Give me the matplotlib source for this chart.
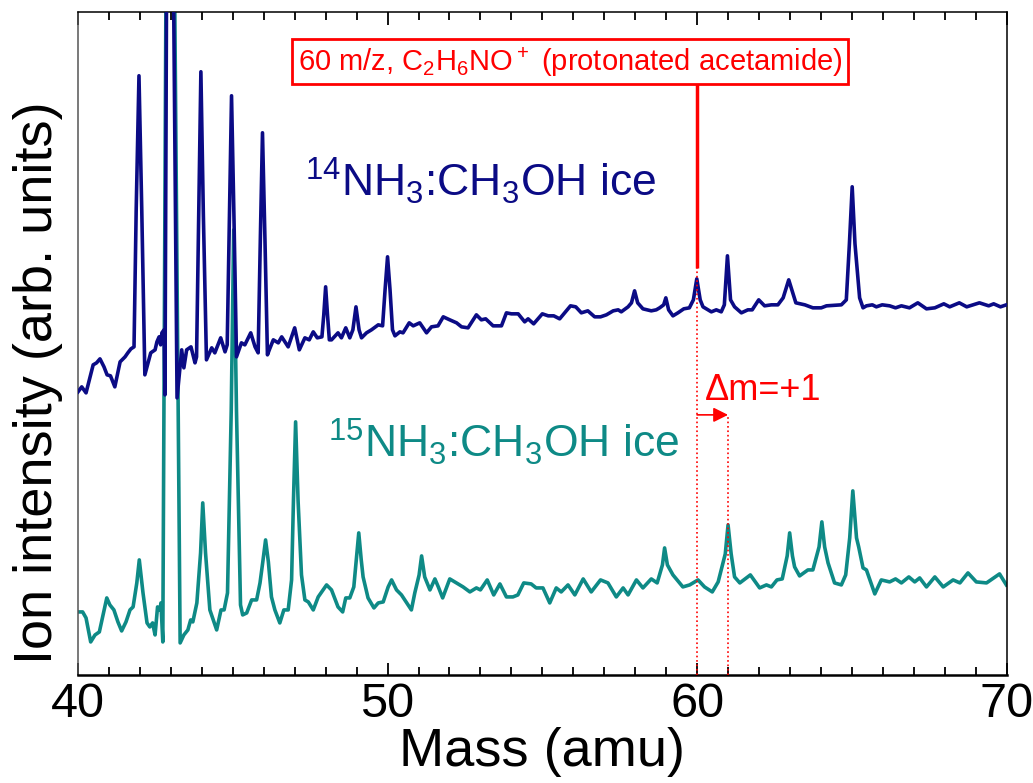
# mass spectra of 14NH3:CH3OH and 15NH3:CH3OH ices, 40-70 amu
import matplotlib
matplotlib.use('Agg')
from matplotlib import pyplot as plt
from matplotlib.ticker import MultipleLocator

# =========================================================
## --- data (arb. units) --- ##
mass14 = [40.00, 40.12, 40.26, 40.49, 40.60, 40.71, 40.84, 40.94, 41.05, 41.19,
          41.36, 41.52, 41.61, 41.71, 41.81, 41.88, 41.97, 42.06, 42.16, 42.23,
          42.35, 42.49, 42.55, 42.62, 42.67, 42.71, 42.78, 42.81, 42.90, 43.00,
          43.20, 43.35, 43.42, 43.51, 43.65, 43.78, 43.83, 43.90, 43.97, 44.05,
          44.15, 44.32, 44.42, 44.61, 44.75, 44.82, 44.89, 44.96, 45.04, 45.12,
          45.28, 45.39, 45.58, 45.72, 45.82, 45.89, 45.96, 46.04, 46.12, 46.18,
          46.31, 46.47, 46.58, 46.79, 47.00, 47.15, 47.33, 47.47, 47.60, 47.73,
          47.88, 47.94, 48.00, 48.06, 48.12, 48.19, 48.40, 48.51, 48.65, 48.78,
          48.88, 48.98, 49.08, 49.16, 49.32, 49.48, 49.70, 49.84, 49.92, 50.00,
          50.08, 50.16, 50.24, 50.40, 50.50, 50.70, 50.83, 51.04, 51.26, 51.42,
          51.63, 51.80, 52.01, 52.23, 52.39, 52.60, 52.87, 53.03, 53.17, 53.41,
          53.68, 53.84, 54.00, 54.22, 54.43, 54.54, 54.72, 55.00, 55.19, 55.37,
          55.56, 55.91, 56.08, 56.26, 56.47, 56.69, 56.88, 57.07, 57.29, 57.45,
          57.55, 57.77, 57.88, 57.98, 58.08, 58.25, 58.52, 58.68, 58.79, 58.92,
          58.99, 59.08, 59.22, 59.38, 59.57, 59.75, 59.88, 59.99, 60.10, 60.19,
          60.46, 60.62, 60.78, 60.88, 60.98, 61.08, 61.21, 61.43, 61.64, 61.78,
          61.99, 62.18, 62.40, 62.61, 62.78, 62.96, 63.19, 63.48, 63.74, 64.01,
          64.18, 64.66, 64.82, 64.92, 65.01, 65.10, 65.25, 65.36, 65.47, 65.66,
          65.79, 65.98, 66.22, 66.41, 66.60, 66.86, 67.13, 67.41, 67.68, 67.97,
          68.16, 68.47, 68.71, 69.12, 69.42, 69.58, 69.80, 69.99]
ints14 = [283, 288, 282, 310, 312, 316, 308, 300, 299, 288,
          313, 318, 322, 326, 328, 465, 599, 465, 300, 308,
          322, 325, 333, 338, 330, 342, 345, 280, 1000, 1000,
          277, 325, 307, 325, 328, 312, 318, 460, 603, 460,
          315, 327, 322, 337, 323, 330, 455, 579, 455, 318,
          332, 330, 342, 328, 322, 435, 542, 435, 320, 325,
          335, 332, 338, 328, 347, 325, 337, 335, 343, 337,
          338, 360, 388, 360, 335, 335, 342, 337, 347, 337,
          345, 368, 345, 337, 342, 345, 350, 349, 385, 418,
          385, 345, 339, 343, 342, 352, 349, 352, 342, 348,
          349, 358, 355, 352, 348, 347, 360, 355, 356, 349,
          349, 362, 361, 361, 353, 356, 351, 361, 359, 359,
          356, 369, 368, 362, 364, 358, 358, 360, 364, 365,
          363, 368, 372, 384, 372, 366, 364, 365, 367, 370,
          377, 365, 359, 362, 366, 367, 375, 396, 375, 368,
          363, 365, 363, 370, 419, 375, 368, 362, 365, 365,
          375, 369, 370, 370, 377, 395, 372, 370, 367, 367,
          369, 370, 375, 431, 488, 431, 377, 367, 369, 370,
          368, 370, 369, 367, 369, 367, 372, 366, 367, 371,
          368, 372, 368, 372, 369, 371, 368, 370]

mass15 = [40.00, 40.15, 40.26, 40.41, 40.55, 40.69, 40.81, 40.93, 41.03, 41.16,
          41.29, 41.41, 41.55, 41.68, 41.78, 41.90, 41.98, 42.10, 42.23, 42.32,
          42.41, 42.49, 42.57, 42.65, 42.68, 42.74, 42.90, 43.02, 43.30, 43.42,
          43.55, 43.64, 43.71, 43.84, 43.96, 44.03, 44.12, 44.26, 44.48, 44.62,
          44.72, 44.83, 44.95, 45.03, 45.12, 45.25, 45.32, 45.45, 45.61, 45.77,
          45.88, 45.97, 46.06, 46.15, 46.25, 46.36, 46.52, 46.65, 46.79, 46.90,
          46.96, 47.03, 47.11, 47.22, 47.33, 47.44, 47.60, 47.76, 48.03, 48.19,
          48.40, 48.55, 48.65, 48.78, 48.91, 48.99, 49.07, 49.15, 49.21, 49.37,
          49.56, 49.70, 49.86, 50.02, 50.13, 50.29, 50.45, 50.77, 50.88, 51.02,
          51.10, 51.20, 51.37, 51.53, 51.64, 51.78, 52.01, 52.17, 52.44, 52.66,
          52.87, 53.00, 53.22, 53.43, 53.63, 53.84, 54.05, 54.21, 54.40, 54.64,
          54.80, 55.02, 55.24, 55.45, 55.61, 55.83, 56.05, 56.32, 56.58, 56.88,
          57.12, 57.39, 57.61, 57.77, 58.04, 58.25, 58.52, 58.71, 58.88, 58.95,
          59.04, 59.22, 59.54, 59.76, 60.03, 60.24, 60.49, 60.68, 60.91, 61.00,
          61.10, 61.21, 61.38, 61.72, 62.02, 62.24, 62.40, 62.58, 62.75, 62.91,
          62.99, 63.08, 63.15, 63.31, 63.58, 63.74, 63.94, 64.03, 64.12, 64.23,
          64.44, 64.66, 64.80, 64.93, 65.03, 65.15, 65.22, 65.36, 65.47, 65.74,
          65.95, 66.22, 66.41, 66.60, 66.84, 67.03, 67.19, 67.41, 67.68, 67.95,
          68.27, 68.49, 68.75, 69.02, 69.35, 69.77, 69.99]
ints15 = [63, 63, 57, 33, 40, 43, 60, 77, 70, 65,
          53, 44, 53, 65, 68, 92, 115, 82, 52, 48,
          52, 40, 68, 65, 72, 33, 1060, 1060, 32, 40,
          45, 55, 53, 72, 122, 172, 122, 65, 45, 65,
          65, 82, 264, 445, 264, 70, 60, 62, 75, 75,
          92, 113, 135, 113, 78, 65, 52, 65, 65, 95,
          174, 253, 174, 100, 75, 73, 65, 78, 90, 85,
          68, 63, 77, 77, 88, 115, 142, 115, 98, 77,
          67, 72, 73, 88, 95, 85, 80, 65, 82, 100,
          119, 98, 85, 96, 88, 77, 96, 93, 88, 83,
          87, 85, 95, 80, 91, 78, 78, 80, 92, 91,
          87, 87, 72, 87, 83, 90, 80, 96, 83, 95,
          92, 78, 87, 80, 95, 87, 96, 92, 110, 127,
          110, 100, 88, 90, 95, 88, 83, 93, 121, 150,
          121, 98, 92, 100, 87, 90, 88, 95, 96, 119,
          142, 119, 108, 99, 105, 105, 128, 153, 128, 112,
          92, 90, 100, 137, 184, 137, 128, 107, 105, 81,
          95, 93, 96, 92, 98, 93, 97, 88, 98, 88,
          95, 92, 102, 93, 92, 101, 90]

col14, col15, colr = '#0b0b85', '#0e8a86', '#ff0000'

# =========================================================
## --- drawing graph --- ##
plt.rcParams['font.family'] = ['Liberation Sans', 'DejaVu Sans']
plt.rcParams['mathtext.default'] = 'regular'

fig = plt.figure(figsize=(10.33, 7.83), dpi=100)
ax = fig.add_axes([0.0755, 0.138, 0.899, 0.847])

ax.plot(mass15, ints15, color=col15, lw=2.6, zorder=2, solid_joinstyle='round')
ax.plot(mass14, ints14, color=col14, lw=2.6, zorder=3, solid_joinstyle='round')

ax.set_xlim(40, 70)
ax.set_ylim(0, 663)
ax.xaxis.set_major_locator(MultipleLocator(10))
ax.xaxis.set_minor_locator(MultipleLocator(1))
ax.set_yticks([])
ax.tick_params(axis='x', which='both', direction='in', top=True, bottom=True,
               width=1.3, labelsize=35, pad=5)
ax.tick_params(axis='x', which='major', length=9)
ax.tick_params(axis='x', which='minor', length=5.5)
for s in ax.spines.values():
    s.set_linewidth(1.1)
ax.spines['left'].set_color('#555555')
ax.spines['bottom'].set_linewidth(1.8)

ax.set_xlabel('Mass (amu)', fontsize=39)
ax.xaxis.set_label_coords(0.5, -0.078)
ax.set_ylabel('Ion intensity (arb. units)', fontsize=39)
ax.yaxis.set_label_coords(-0.016, 0.44)

# labels of the spectra
ax.text(47.33, 478, r'$^{14}$NH$_3$:CH$_3$OH ice', color=col14, fontsize=32,
        ha='left', va='baseline')
ax.text(48.07, 217, r'$^{15}$NH$_3$:CH$_3$OH ice', color=col15, fontsize=32,
        ha='left', va='baseline')

# 60 m/z marker
ax.text(55.9, 613, r'60 m/z, C$_2$H$_6$NO$^+$ (protonated acetamide)',
        color=colr, fontsize=21, ha='center', va='center', zorder=6,
        bbox=dict(boxstyle='square,pad=0.2', fc='white', ec=colr, lw=2))
ax.vlines(60, 407, 600, color=colr, lw=2.5, zorder=4)
ax.vlines(60, 0, 407, color=colr, lw=1.2, linestyle=':', zorder=4)
ax.vlines(61, 0, 260, color=colr, lw=1.2, linestyle=':', zorder=4)
ax.annotate('', xy=(61, 260), xytext=(60, 260),
            arrowprops=dict(arrowstyle='-|>', color=colr, lw=1.2,
                            mutation_scale=22, shrinkA=0, shrinkB=0), zorder=5)
ax.text(60.25, 275, '\u0394m=+1', color=colr, fontsize=26,
        ha='left', va='baseline')

fig.savefig('out.png', dpi=100)
